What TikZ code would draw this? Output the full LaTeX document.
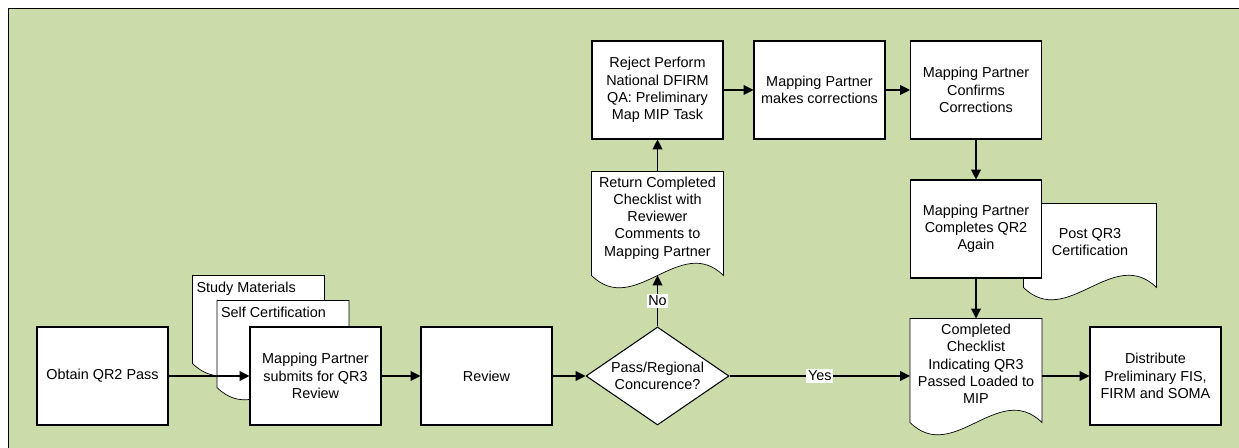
\documentclass[tikz,border=0pt]{standalone}
\usepackage{fontspec}
\setmainfont{Liberation Sans}
\usepackage{xcolor}
\usepackage{tikz}
\usetikzlibrary{positioning,shapes,arrows.meta,backgrounds,calc}
\definecolor{panelgreen}{RGB}{204,219,170}

% outline of a document shape, drawn behind its node
\newcommand{\docoutline}[1]{%
  \begin{scope}[on background layer]
    \draw [docline] (#1.north west) -- (#1.north east) -- (#1.south east)
      .. controls ($(#1.south east)+(-0.87,0.85)$) and ($(#1.south west)+(0.87,-0.85)$) .. (#1.south west) -- cycle;
  \end{scope}}

\begin{document}
\begin{tikzpicture}[node distance=3.42cm, >={Triangle[length=5.6pt,width=5.6pt]}, line width=0.6pt, font=\fontsize{8.2}{9.8}\selectfont]
    \tikzstyle{proc} = [rectangle, minimum width=2.62cm, minimum height=1.96cm, align=center, draw=black, fill=white, inner sep=2pt]
    \tikzstyle{docbox} = [rectangle, minimum width=2.62cm, minimum height=2.06cm, align=center, inner sep=2pt]
    \tikzstyle{docline} = [draw=black, fill=white]
    \tikzstyle{decide} = [diamond, aspect=1.46, minimum width=2.86cm, minimum height=1.96cm, inner sep=0pt, align=center, draw=black, fill=white]
    \tikzstyle{tag} = [anchor=north west, inner xsep=2pt, inner ysep=3.5pt]
    \tikzstyle{answer} = [fill=white, inner sep=1pt]

    \useasboundingbox (-2.05,-1.44) rectangle (22.73,7.52);
    \begin{scope}[on background layer]
        \draw [fill=panelgreen] (-1.89,7.36) rectangle (23.5,-2);
    \end{scope}

    % Main row
    \node [proc] (obtain) {Obtain QR2 Pass};
    \node [proc, right of=obtain, xshift=0.84cm] (submit) {Mapping Partner\\submits for QR3\\Review};
    \node [proc, right of=submit] (review) {Review};
    \node [decide, right of=review] (dec) {Pass/Regional\\Concurence?};

    % Inputs to the submission
    \node [docbox, minimum height=1.74cm, xshift=-1.14cm, yshift=1.13cm, label={[tag]north west:Study Materials}] (study) at (submit) {};
    \node [docbox, minimum height=1.72cm, xshift=-0.65cm, yshift=0.64cm, label={[tag]north west:Self Certification}] (self) at (submit) {};

    % Correction loop
    \node [docbox, above of=dec, yshift=-0.37cm, text depth=7.9pt] (ret) {Return Completed\\Checklist with\\Reviewer\\Comments to\\Mapping Partner};
    \node [proc, above of=ret, yshift=-0.75cm] (reject) {Reject Perform\\National DFIRM\\QA: Preliminary\\Map MIP Task};
    \node [proc, right of=reject, xshift=-0.18cm] (fix) {Mapping Partner\\makes corrections};
    \node [proc, right of=fix, xshift=-0.29cm] (confirm) {Mapping Partner\\Confirms\\Corrections};
    \node [proc, below of=confirm, yshift=0.64cm] (again) {Mapping Partner\\Completes QR2\\Again};
    \node [docbox, minimum width=2.64cm, minimum height=1.66cm, text depth=4pt, right of=again, xshift=-1.14cm, yshift=-0.33cm] (post) {Post QR3\\Certification};

    % Final steps
    \node [docbox, below of=again, yshift=0.59cm, text depth=7.6pt] (done) {Completed\\Checklist\\Indicating QR3\\Passed Loaded to\\MIP};
    \node [proc, right of=done, xshift=0.17cm, yshift=-0.11cm] (distribute) {Distribute\\Preliminary FIS,\\FIRM and SOMA};

    % Document outlines
    \docoutline{study}
    \docoutline{self}
    \docoutline{post}
    \docoutline{ret}
    \docoutline{done}

    % Arrows
    \draw [->] (obtain) -- (submit);
    \draw [->] (submit) -- (review);
    \draw [->] (review) -- (dec);
    \draw [->] (dec.east) -- (dec.east -| done.west) node [answer, midway] {Yes};
    \draw [->] (dec) -- (ret) node [answer, midway] {No};
    \draw [->] (ret) -- (reject);
    \draw [->] (reject) -- (fix);
    \draw [->] (fix) -- (confirm);
    \draw [->] (confirm) -- (again);
    \draw [->] (again) -- (done);
    \draw [->] (done.east |- distribute) -- (distribute);
\end{tikzpicture}
\end{document}
